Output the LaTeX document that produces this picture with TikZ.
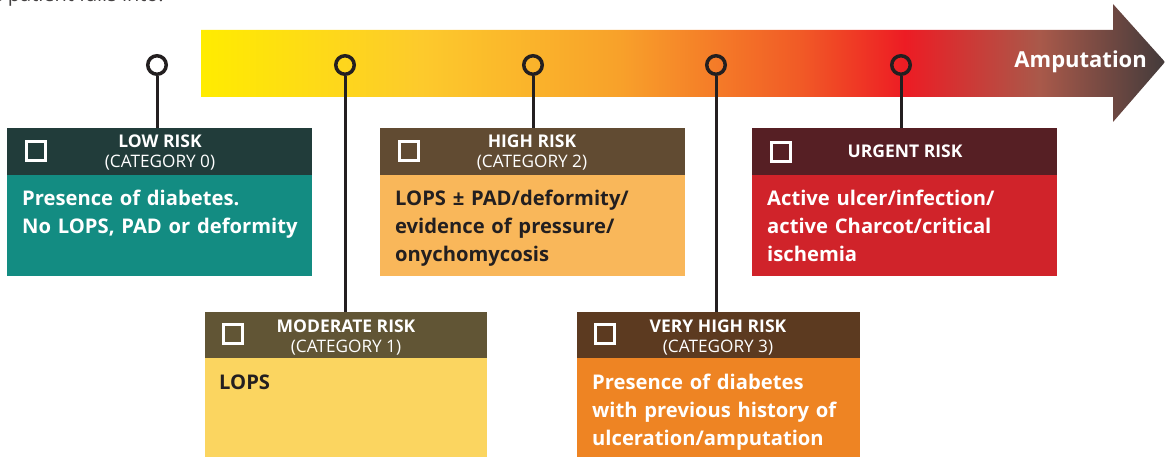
\documentclass[tikz,border=0pt]{standalone}
\usepackage{fontspec}
\setmainfont{Open Sans}
\definecolor{g1}{HTML}{FFEC00}
\definecolor{g2}{HTML}{FDCA2C}
\definecolor{g3}{HTML}{F8A12A}
\definecolor{g4}{HTML}{F15A26}
\definecolor{g5}{HTML}{ED1C24}
\definecolor{g6}{HTML}{A9594A}
\definecolor{g7}{HTML}{433B3B}
\definecolor{ink}{HTML}{231F20}
\definecolor{lowH}{HTML}{213C3A}
\definecolor{lowB}{HTML}{138C82}
\definecolor{modH}{HTML}{615535}
\definecolor{modB}{HTML}{FBD560}
\definecolor{highH}{HTML}{614B32}
\definecolor{highB}{HTML}{F9B75A}
\definecolor{vhH}{HTML}{5C3A20}
\definecolor{vhB}{HTML}{EE8423}
\definecolor{urgH}{HTML}{561F24}
\definecolor{urgB}{HTML}{D0232A}
\pgfdeclarehorizontalshading{riskgrad}{100bp}{color(0bp)=(g1); color(25bp)=(g1); color(36.4bp)=(g2); color(46.7bp)=(g3); color(56.1bp)=(g4); color(61.5bp)=(g5); color(68.5bp)=(g6); color(75bp)=(g7); color(100bp)=(g7)}
\begin{document}
\begin{tikzpicture}[x=1pt,y=-1pt,
  boxpart/.style={inner sep=0pt, outer sep=0pt, anchor=north west, draw=none},
  hdrtitle/.style={inner sep=0pt, anchor=base, text=white, font=\fontsize{17.5}{17.5}\selectfont\bfseries},
  hdrcat/.style={inner sep=0pt, anchor=base, text=white, font=\fontsize{17.2}{17.2}\selectfont},
  bodytext/.style={inner sep=0pt, anchor=base west, align=left, text width=300pt, font=\fontsize{20.2}{28}\selectfont\bfseries},
  tick/.style={circle, draw=ink, line width=3.5pt, minimum size=18.5pt, inner sep=0pt, fill=none},
  stem/.style={draw=ink, line width=3pt},
  chk/.style={draw=white, line width=2.8pt, minimum size=19.5pt, inner sep=0pt, anchor=center}
]
\useasboundingbox (0,0) rectangle (1165,457);
\node[inner sep=0pt, anchor=base east, text=ink!85, font=\fontsize{20}{20}\selectfont] (intro) at (164,2) {the patient falls into:};
% arrow
\shade[shading=riskgrad] (201,30) -- (1113,30) -- (1113,4) -- (1165,62) -- (1113,122) -- (1113,97) -- (201,97) -- cycle;
\node[inner sep=0pt, anchor=base east, text=white, font=\fontsize{22}{22}\selectfont\bfseries] (amp) at (1147,68) {Amputation};
% boxes
\node[boxpart, fill=lowH, minimum width=305pt, minimum height=47pt] (lowh) at (7,128) {};
\node[boxpart, fill=lowB, minimum width=305pt, minimum height=101pt] (lowb) at (7,175) {};
\node[boxpart, fill=highH, minimum width=305pt, minimum height=47pt] (highh) at (380,128) {};
\node[boxpart, fill=highB, minimum width=305pt, minimum height=101pt] (highb) at (380,175) {};
\node[boxpart, fill=urgH, minimum width=305pt, minimum height=47pt] (urgh) at (752,128) {};
\node[boxpart, fill=urgB, minimum width=305pt, minimum height=101pt] (urgb) at (752,175) {};
\node[boxpart, fill=modH, minimum width=282pt, minimum height=46pt] (modh) at (205,312) {};
\node[boxpart, fill=modB, minimum width=282pt, minimum height=99pt] (modb) at (205,358) {};
\node[boxpart, fill=vhH, minimum width=283pt, minimum height=46pt] (vhh) at (577,312) {};
\node[boxpart, fill=vhB, minimum width=283pt, minimum height=99pt] (vhb) at (577,358) {};
% ticks
\node[tick] (t0) at (157,65) {};
\node[tick] (t1) at (345,65) {};
\node[tick] (t2) at (533,65) {};
\node[tick] (t3) at (716,65) {};
\node[tick] (t4) at (901,65) {};
\draw[stem] (t0.south) -- (t0.south |- lowh.north);
\draw[stem] (t1.south) -- (t1.south |- modh.north);
\draw[stem] (t2.south) -- (t2.south |- highh.north);
\draw[stem] (t3.south) -- (t3.south |- vhh.north);
\draw[stem] (t4.south) -- (t4.south |- urgh.north);
% checkboxes
\node[chk] (c0) at (36,151) {};
\node[chk] (c2) at (409,151) {};
\node[chk] (c4) at (781,152) {};
\node[chk] (c1) at (233,334) {};
\node[chk] (c3) at (605,334) {};
% header texts
\node[hdrtitle] (l0a) at (160,148) {LOW RISK};
\node[hdrcat] (l0b) at (160,168) {(CATEGORY 0)};
\node[hdrtitle] (l2a) at (532,148) {HIGH RISK};
\node[hdrcat] (l2b) at (532,168) {(CATEGORY 2)};
\node[hdrtitle] (l4a) at (905,158) {URGENT RISK};
\node[hdrtitle] (l1a) at (346,332) {MODERATE RISK};
\node[hdrcat] (l1b) at (346,352) {(CATEGORY 1)};
\node[hdrtitle] (l3a) at (718,332) {VERY HIGH RISK};
\node[hdrcat] (l3b) at (718,352) {(CATEGORY 3)};
% body texts
\node[bodytext, text=white] (b0) at (22,206) {Presence of diabetes.\\No LOPS, PAD or deformity};
\node[bodytext, text=ink] (b2) at (395,206) {LOPS ± PAD/deformity/\\evidence of pressure/\\onychomycosis};
\node[bodytext, text=white] (b4) at (767,206) {Active ulcer/infection/\\active Charcot/critical\\ischemia};
\node[bodytext, text=ink] (b1) at (219,389) {LOPS};
\node[bodytext, text=white] (b3) at (592,389) {Presence of diabetes\\with previous history of\\ulceration/amputation};
\end{tikzpicture}
\end{document}
